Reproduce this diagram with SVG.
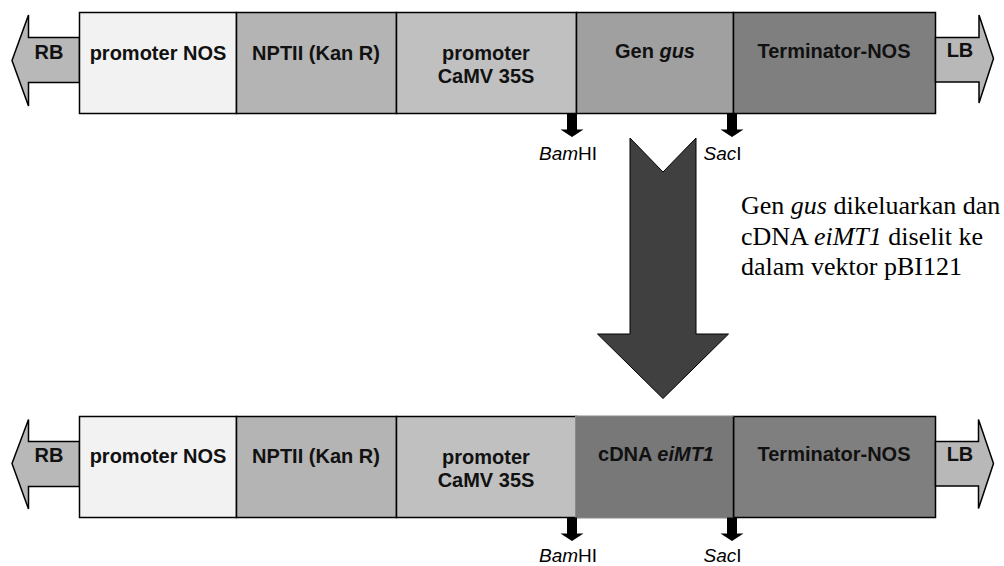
<svg xmlns="http://www.w3.org/2000/svg" xmlns:xlink="http://www.w3.org/1999/xlink" width="1004" height="566" viewBox="0 0 1004 566">
<style>
.seg{stroke:#000;stroke-width:1.5}
.lbl{font-family:"Liberation Sans",Arial,sans-serif;font-weight:bold;font-size:20px;fill:#111;text-anchor:middle}
.enz{font-family:"Liberation Sans",Arial,sans-serif;font-size:19px;fill:#000;text-anchor:middle}
.note{font-family:"Liberation Serif","Times New Roman",serif;font-size:26px;fill:#000}
.border{fill:#b8b8b8;stroke:#000;stroke-width:1.5}
</style>
<defs>
<path id="cut" d="M-5,0 h10 v16 h6.5 l-11.5,7.5 l-11.5,-7.5 h6.5 z" fill="#000"/>
</defs>
<rect width="1004" height="566" fill="#fff"/>

<g id="top-construct">
  <g id="top-RB">
    <polygon class="border" points="79.5,37.5 28.5,37.5 28.5,15 12,60.5 28.5,106 28.5,82.5 79.5,82.5"/>
    <text class="lbl" x="49" y="59">RB</text>
  </g>
  <g id="top-promNOS">
    <rect class="seg" x="79.5" y="12.5" width="157" height="101" fill="#f2f2f2"/>
    <text class="lbl" x="158" y="60">promoter NOS</text>
  </g>
  <g id="top-NPTII">
    <rect class="seg" x="236.5" y="12.5" width="160" height="101" fill="#b4b4b4"/>
    <text class="lbl" x="316" y="59.5">NPTII (Kan R)</text>
  </g>
  <g id="top-CaMV">
    <rect class="seg" x="396.5" y="12.5" width="180" height="101" fill="#c0c0c0"/>
    <text class="lbl" x="486" y="60">promoter</text>
    <text class="lbl" x="486" y="83">CaMV 35S</text>
  </g>
  <g id="top-gus">
    <rect class="seg" x="576.5" y="12.5" width="157" height="101" fill="#a0a0a0"/>
    <text class="lbl" x="655" y="58">Gen <tspan font-style="italic">gus</tspan></text>
  </g>
  <g id="top-term">
    <rect class="seg" x="733.5" y="12.5" width="202" height="101" fill="#7f7f7f"/>
    <text class="lbl" x="834" y="58">Terminator-NOS</text>
  </g>
  <g id="top-LB">
    <polygon class="border" points="935.5,37.5 979,37.5 979,15 993.5,58.5 979,103 979,82 935.5,82"/>
    <text class="lbl" x="960" y="57">LB</text>
  </g>
  <g id="top-BamHI">
    <use xlink:href="#cut" x="572" y="113.5"/>
    <text class="enz" x="568" y="160"><tspan font-style="italic">Bam</tspan>HI</text>
  </g>
  <g id="top-SacI">
    <use xlink:href="#cut" x="732" y="113.5"/>
    <text class="enz" x="722.5" y="160"><tspan font-style="italic">Sac</tspan>I</text>
  </g>
</g>

<g id="connectors">
  <polygon points="630,138 663,172 696,138 696,334 728.5,334 663,398.5 597.5,334 630,334" fill="#404040" stroke="#000" stroke-width="1"/>
</g>

<g id="note">
  <text class="note" x="741" y="213.5">Gen <tspan font-style="italic">gus</tspan> dikeluarkan dan</text>
  <text class="note" x="741" y="244.5">cDNA <tspan font-style="italic">eiMT1</tspan> diselit ke</text>
  <text class="note" x="741" y="275">dalam vektor pBI121</text>
</g>

<g id="bottom-construct">
  <g id="bot-RB">
    <polygon class="border" points="79.5,441.5 28.5,441.5 28.5,419.5 12,463.5 28.5,509 28.5,486.5 79.5,486.5"/>
    <text class="lbl" x="49" y="462">RB</text>
  </g>
  <g id="bot-promNOS">
    <rect class="seg" x="79.5" y="416.5" width="157" height="101" fill="#f2f2f2"/>
    <text class="lbl" x="158" y="463">promoter NOS</text>
  </g>
  <g id="bot-NPTII">
    <rect class="seg" x="236.5" y="416.5" width="160" height="101" fill="#b4b4b4"/>
    <text class="lbl" x="316" y="462.5">NPTII (Kan R)</text>
  </g>
  <g id="bot-CaMV">
    <rect class="seg" x="396.5" y="416.5" width="180" height="101" fill="#c0c0c0"/>
    <text class="lbl" x="486" y="463.5">promoter</text>
    <text class="lbl" x="486" y="487">CaMV 35S</text>
  </g>
  <g id="bot-term">
    <rect class="seg" x="733.5" y="416.5" width="202" height="101" fill="#7f7f7f"/>
    <text class="lbl" x="834" y="461">Terminator-NOS</text>
  </g>
  <g id="bot-cDNA">
    <rect x="575.5" y="416" width="158" height="102" fill="#787878" stroke="#8a8a8a" stroke-width="1"/>
    <line x1="733.5" y1="416.5" x2="733.5" y2="517.5" stroke="#000" stroke-width="1.5"/>
    <text class="lbl" x="656" y="461">cDNA <tspan font-style="italic">eiMT1</tspan></text>
  </g>
  <g id="bot-LB">
    <polygon class="border" points="935.5,441.5 978.5,441.5 978.5,419.5 993.5,463.5 978.5,508.5 978.5,486 935.5,486"/>
    <text class="lbl" x="960" y="461">LB</text>
  </g>
  <g id="bot-BamHI">
    <use xlink:href="#cut" x="572" y="517.5"/>
    <text class="enz" x="568" y="562"><tspan font-style="italic">Bam</tspan>HI</text>
  </g>
  <g id="bot-SacI">
    <use xlink:href="#cut" x="732" y="517.5"/>
    <text class="enz" x="722.5" y="562"><tspan font-style="italic">Sac</tspan>I</text>
  </g>
</g>
</svg>
